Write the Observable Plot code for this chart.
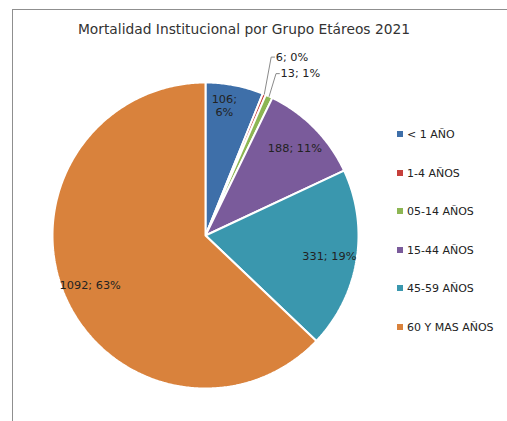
<!DOCTYPE html>
<html><head><meta charset="utf-8">
<script src="https://cdn.jsdelivr.net/npm/d3@7"></script>
<script src="https://cdn.jsdelivr.net/npm/@observablehq/plot@0.6"></script>
<style>
html,body{margin:0;padding:0;background:#fff}
#wrap{position:relative;width:507px;height:421px;overflow:hidden;font-family:"DejaVu Sans",sans-serif;color:#222}
#border{position:absolute;left:12px;top:9px;width:620px;height:520px;border:1px solid #8f8f8f;box-sizing:border-box}
#title{position:absolute;top:21px;left:244px;transform:translateX(-50%);white-space:nowrap;font-size:13.8px;color:#333}
#chart{position:absolute;left:0;top:0}
.lg{position:absolute;left:397px;font-size:11px;white-space:nowrap;line-height:12px;color:#222}
.lg span{display:inline-block;width:6px;height:6px;margin-right:4px;vertical-align:1px}
</style></head>
<body>
<div id="wrap">
  <div id="border"></div>
  <div id="chart"></div>
  <div id="title">Mortalidad Institucional por Grupo Etáreos 2021</div>
</div>
<script>
const title = "Mortalidad Institucional por Grupo Etáreos 2021";
const categories = ["< 1 AÑO", "1-4 AÑOS", "05-14 AÑOS", "15-44 AÑOS", "45-59 AÑOS", "60 Y MAS AÑOS"];
const values = [106, 6, 13, 188, 331, 1092];
const colors = ["#3e6fa9", "#c63f3b", "#8db653", "#7a5b9b", "#3a97ae", "#d9823c"];

const total = d3.sum(values);
const pie = d3.pie().sort(null).value(d => d)(values);

// Slice polygons in a unit-circle space (y downwards, angle clockwise from 12 o'clock)
const pt = (a, r) => [r * Math.sin(a), -r * Math.cos(a)];
const slices = pie.map((p, i) => {
  const n = Math.max(2, Math.ceil((p.endAngle - p.startAngle) / 0.01));
  const ring = [[0, 0]];
  for (let k = 0; k <= n; k++) ring.push(pt(p.startAngle + (p.endAngle - p.startAngle) * k / n, 1));
  ring.push([0, 0]);
  return {type: "Feature", properties: {cat: categories[i]}, geometry: {type: "Polygon", coordinates: [ring]}};
});
// fitting box: the unit pie plus headroom above it for outside labels
const box = {type: "Polygon", coordinates: [[[-1, -1.2], [1, -1.2], [1, 1], [-1, 1], [-1, -1.2]]]};

// Labels
const inside = [], outside = [], leaders = [];
const small = pie.map((p, i) => i).filter(i => values[i] / total < 0.02);
pie.forEach((p, i) => {
  const share = values[i] / total;
  const pct = Math.round(share * 100);
  const mid = (p.startAngle + p.endAngle) / 2;
  if (share >= 0.02) {
    const narrow = share < 0.08;
    const [x, y] = narrow ? pt(mid * 0.75, 0.86) : pt(mid, 0.82);
    const sep = narrow ? ";\n" : "; ";
    inside.push({x, y, text: `${values[i]}${sep}${pct}%`});
  } else {
    const rank = small.length - 1 - small.indexOf(i);
    const [ex, ey] = pt(mid, 1);
    const ly = -1.058 - 0.108 * rank;
    const lx = ex + 0.045;
    leaders.push({g: i, x: ex, y: ey}, {g: i, x: lx, y: ly}, {g: i, x: lx + 0.022, y: ly});
    outside.push({x: lx + 0.03, y: ly, text: `${values[i]}; ${pct}%`});
  }
});

const plot = Plot.plot({
  width: 507, height: 421,
  marginLeft: 52, marginTop: 51.4, marginRight: 149, marginBottom: 33,
  style: {background: "none", overflow: "visible"},
  projection: {type: "identity", domain: box},
  color: {domain: categories, range: colors},
  marks: [
    Plot.geo(slices, {fill: d => d.properties.cat, stroke: "white", strokeWidth: 2, strokeLinejoin: "miter"}),
    Plot.line(leaders, {x: "x", y: "y", z: "g", stroke: "#8a8a8a", strokeWidth: 1}),
    Plot.text(inside, {x: "x", y: "y", text: "text", fontSize: 11.3, fill: "#222", lineHeight: 1.15, fontFamily: "DejaVu Sans, sans-serif"}),
    Plot.text(outside, {x: "x", y: "y", text: "text", fontSize: 11.3, fill: "#222", textAnchor: "start", fontFamily: "DejaVu Sans, sans-serif"})
  ]
});
document.getElementById("chart").appendChild(plot);

// Legend
const wrap = document.getElementById("wrap");
categories.forEach((c, i) => {
  const div = document.createElement("div");
  div.className = "lg";
  div.style.top = (129 + i * 38.6) + "px";
  const sw = document.createElement("span");
  sw.style.background = colors[i];
  div.appendChild(sw);
  div.appendChild(document.createTextNode(c));
  wrap.appendChild(div);
});
</script>
</body></html>
